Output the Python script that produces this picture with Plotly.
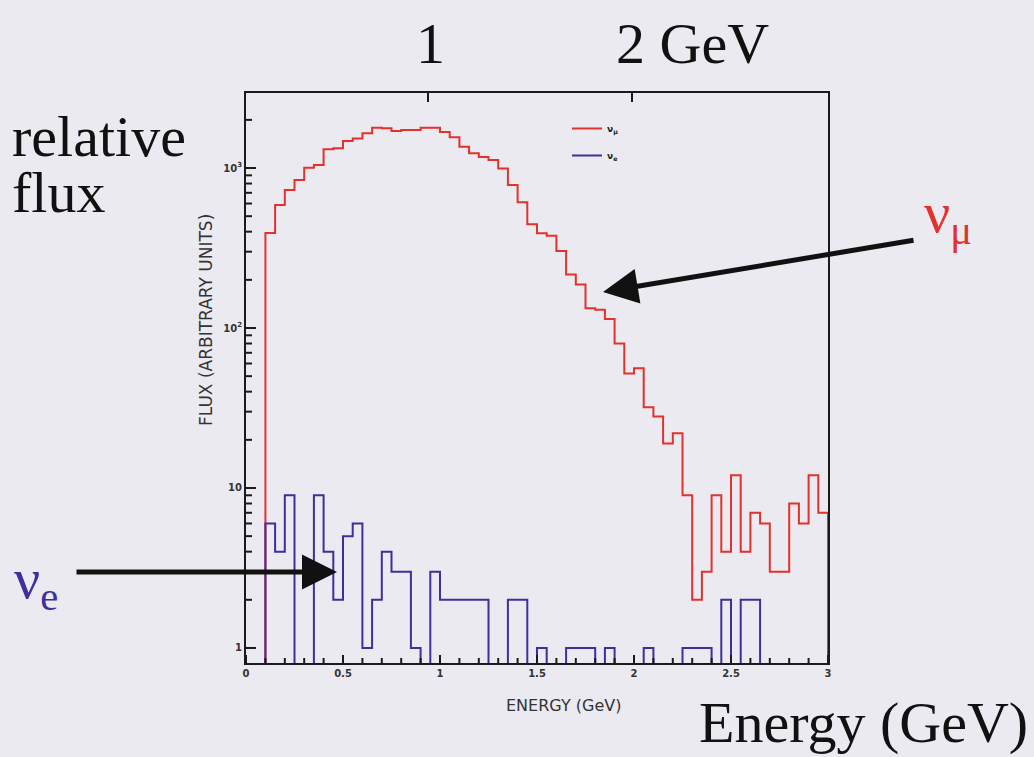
import plotly.graph_objects as go

# ---------------- data ----------------
energy_edges = [0.10, 0.15, 0.20, 0.25, 0.30, 0.35, 0.40, 0.45, 0.50, 0.55,
                0.60, 0.65, 0.70, 0.75, 0.80, 0.85, 0.90, 0.95, 1.00, 1.05,
                1.10, 1.15, 1.20, 1.25, 1.30, 1.35, 1.40, 1.45, 1.50, 1.55,
                1.60, 1.65, 1.70, 1.75, 1.80, 1.85, 1.90, 1.95, 2.00, 2.05,
                2.10, 2.15, 2.20, 2.25, 2.30, 2.35, 2.40, 2.45, 2.50, 2.55,
                2.60, 2.65, 2.70, 2.75, 2.80, 2.85, 2.90, 2.95, 3.00]

numu_flux = [393, 587, 729, 841, 1004, 1045, 1309, 1328, 1476, 1532,
             1647, 1787, 1770, 1702, 1727, 1727, 1787, 1787, 1680, 1560,
             1359, 1236, 1170, 1122, 995, 783, 610, 445, 391, 377,
             303, 216, 187, 133, 130, 114, 80, 52, 56, 32,
             28, 19, 22, 9, 2, 3, 9, 4, 12, 4,
             7, 6, 3, 3, 8, 6, 12, 7]

nue_flux = [6, 4, 9, 0, 0, 9, 4, 2, 5, 6,
            1, 2, 4, 3, 3, 1, 0, 3, 2, 2,
            2, 2, 2, 0, 0, 2, 2, 0, 1, 0,
            0, 1, 1, 1, 0, 1, 0, 0, 0, 1,
            0, 0, 0, 1, 1, 1, 0, 2, 0, 2,
            2, 0, 0, 0, 0, 0, 0, 0]

x_ticks = [0, 0.5, 1, 1.5, 2, 2.5, 3]
x_minor_ticks = [0.1, 0.2, 0.3, 0.4, 0.6, 0.7, 0.8, 0.9, 1.1, 1.2, 1.3, 1.4,
                 1.6, 1.7, 1.8, 1.9, 2.1, 2.2, 2.3, 2.4, 2.6, 2.7, 2.8, 2.9]
y_tickvals = [1, 10, 100, 1000]
y_ticktext = ["1", "10", "10<sup>2</sup>", "10<sup>3</sup>"]
y_minor_ticks = [2, 3, 4, 5, 6, 7, 8, 9, 20, 30, 40, 50, 60, 70, 80, 90,
                 200, 300, 400, 500, 600, 700, 800, 900, 2000]
top_tickvals = [0.94, 1.99]

# ---------------- layout helpers ----------------
W, H = 1034, 757
L, R, T, B = 246, 828, 93, 663
FLOOR = 0.3  # empty bins are drawn down to below the axis
XR = [0, 3]
YR = [-0.094, 3.469]


def px(xp):
    return (xp - L) / (R - L)


def py(yp):
    return (B - yp) / (B - T)


def step_xy(edges, vals):
    yv = [v if v > 0 else FLOOR for v in vals]
    xs = [edges[0]] + list(edges) + [edges[-1]]
    ys = [FLOOR] + yv + [yv[-1], FLOOR]
    return xs, ys


BG = "#ECEAF1"
RED = "#E3312B"
BLUE = "#3D2F9E"
SERIF = "Liberation Serif, Times New Roman, serif"
SANS = "DejaVu Sans, Arial, sans-serif"
BIG = 58
AX = "#1a1a1a"

fig = go.Figure()

xr, yr = step_xy(energy_edges, numu_flux)
fig.add_trace(go.Scatter(x=xr, y=yr, mode="lines", line=dict(color=RED, width=2, shape="hv"),
                         name="ν<sub>μ</sub>", legendgroup="a"))
xb, yb = step_xy(energy_edges, nue_flux)
fig.add_trace(go.Scatter(x=xb, y=yb, mode="lines", line=dict(color=BLUE, width=2, shape="hv"),
                         name="ν<sub>e</sub>", legendgroup="b"))
# invisible trace that carries the top axis
fig.add_trace(go.Scatter(x=[0.5, 2.5], y=[2, 20], xaxis="x2", mode="lines",
                         line=dict(width=0), showlegend=False, hoverinfo="skip"))

tickfont = dict(family=SANS, size=10, color="#333", weight="bold")

fig.update_layout(
    width=W, height=H,
    margin=dict(l=L, r=W - R, t=T, b=H - B),
    paper_bgcolor=BG, plot_bgcolor=BG,
    showlegend=True,
    legend=dict(x=px(567), y=py(114), xanchor="left", yanchor="top",
                bgcolor="rgba(0,0,0,0)",
                font=dict(family=SANS, size=9, color="#222", weight="bold"),
                traceorder="grouped", tracegroupgap=8),
    xaxis=dict(range=XR, tickmode="array", tickvals=x_ticks, ticks="inside",
               ticklen=7, tickwidth=2, tickcolor=AX,
               showline=True, linecolor=AX, linewidth=2, mirror=True,
               showgrid=False, zeroline=False, tickfont=tickfont),
    yaxis=dict(type="log", range=YR, tickmode="array", tickvals=y_tickvals,
               ticktext=y_ticktext, ticks="inside", ticklen=8, tickwidth=2, tickcolor=AX,
               showline=True, linecolor=AX, linewidth=2, mirror=True,
               showgrid=False, zeroline=False, tickfont=tickfont),
    # top axis marks for "1" and "2 GeV"
    xaxis2=dict(range=XR, overlaying="x", side="top", tickmode="array",
                tickvals=top_tickvals, showticklabels=False, ticks="inside",
                ticklen=9, tickwidth=2, tickcolor=AX,
                showgrid=False, zeroline=False, showline=False),
)

# inside tick marks drawn as shapes from the tick arrays
shapes = []
for v, ln, w in [(v, 8, 2) for v in x_ticks] + [(v, 5, 2) for v in x_minor_ticks]:
    shapes.append(dict(type="line", xref="x", yref="paper", x0=v, x1=v,
                       y0=0, y1=ln / (B - T), line=dict(color=AX, width=w)))
for v, ln, w in [(v, 10, 2) for v in y_tickvals] + [(v, 6, 2) for v in y_minor_ticks]:
    shapes.append(dict(type="line", xref="paper", yref="y", x0=0, x1=ln / (R - L),
                       y0=v, y1=v, line=dict(color=AX, width=w)))
fig.update_layout(shapes=shapes)

ann = []
# big slide texts
ann.append(dict(text="1", x=px(430), y=py(44), xanchor="center", yanchor="middle",
                font=dict(family=SERIF, size=BIG, color="#111")))
ann.append(dict(text="2 GeV", x=px(614), y=py(44), xanchor="left", yanchor="middle",
                font=dict(family=SERIF, size=BIG, color="#111")))
ann.append(dict(text="relative", x=px(10), y=py(136), xanchor="left", yanchor="middle",
                font=dict(family=SERIF, size=BIG, color="#111")))
ann.append(dict(text="flux", x=px(10), y=py(192), xanchor="left", yanchor="middle",
                font=dict(family=SERIF, size=BIG, color="#111")))
ann.append(dict(text="Energy (GeV)", x=px(1030), y=py(723), xanchor="right", yanchor="middle",
                font=dict(family=SERIF, size=BIG, color="#111")))
ann.append(dict(text="ν<sub>μ</sub>", x=px(922), y=py(216), xanchor="left", yanchor="middle",
                font=dict(family=SERIF, size=BIG, color=RED)))
ann.append(dict(text="ν<sub>e</sub>", x=px(12), y=py(582), xanchor="left", yanchor="middle",
                font=dict(family=SERIF, size=BIG, color=BLUE)))
# axis titles of the inner plot
ann.append(dict(text="ENERGY (GeV)", x=px(563), y=py(705), xanchor="center", yanchor="middle",
                font=dict(family=SANS, size=16, color="#333")))
ann.append(dict(text="FLUX (ARBITRARY UNITS)", x=px(206), y=py(320), xanchor="center",
                yanchor="middle", textangle=-90,
                font=dict(family=SANS, size=17, color="#333")))
# arrows
ann.append(dict(text="", x=px(603), y=py(292), ax=915 - 603, ay=240 - 292, showarrow=True,
                arrowhead=2, arrowwidth=5, arrowsize=1.4, arrowcolor="#111"))
ann.append(dict(text="", x=px(337), y=py(572), ax=75 - 337, ay=0, showarrow=True,
                arrowhead=2, arrowwidth=5, arrowsize=1.4, arrowcolor="#111"))

for a in ann:
    a.setdefault("xref", "paper")
    a.setdefault("yref", "paper")
    a.setdefault("showarrow", False)
fig.update_layout(annotations=ann)

fig.write_html("out.html")
